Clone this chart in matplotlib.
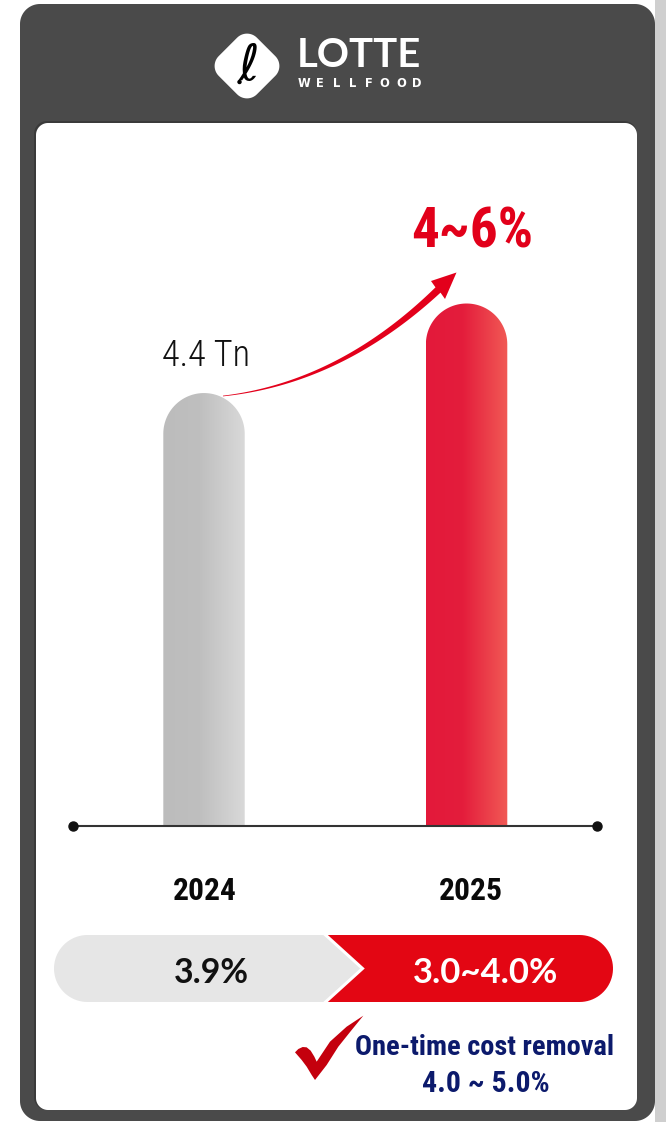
import os
import numpy as np
import matplotlib
matplotlib.use("Agg")
import matplotlib.pyplot as plt
from matplotlib import font_manager as fm
from matplotlib.font_manager import FontProperties
from matplotlib.patches import Polygon, Circle
from matplotlib.colors import LinearSegmentedColormap

# ---------------- data ----------------
categories = ["2024", "2025"]
bar_heights = [4.4, 5.31]            # drawn bar heights (2025 shown taller: 4~6% growth)
bar_value_label = "4.4 Tn"
growth_label = "4~6%"
margin_labels = ["3.9%", "3.0~4.0%"]
note_lines = ["One-time cost removal", "4.0 ~ 5.0%"]
brand_name = "LOTTE"
brand_sub = "WELLFOOD"

W, H = 666, 1122
fig = plt.figure(figsize=(W / 100, H / 100), dpi=100)
fig.patch.set_facecolor("white")
renderer = fig.canvas.get_renderer()


def px_axes(z):
    a = fig.add_axes([0, 0, 1, 1], zorder=z)
    a.set_xlim(0, W)
    a.set_ylim(H, 0)
    a.axis("off")
    a.patch.set_alpha(0)
    return a


# ---------------- fonts ----------------
def weight_of(f):
    w = f.weight
    if isinstance(w, str):
        w = {"ultralight": 200, "light": 300, "normal": 400, "regular": 400,
             "book": 400, "medium": 500, "semibold": 600, "demibold": 600,
             "bold": 700, "heavy": 800, "black": 900}.get(w.lower(), 400)
    return int(w)


COND_KEYS = ["robotocondensed", "notosans-condensed", "liberationsansnarrow",
             "dejavusanscondensed", "opensans-condensed", "notosans-semicondensed"]


def cond_font(target_w):
    best = None
    for f in fm.fontManager.ttflist:
        fn = os.path.basename(f.fname).lower()
        if f.style != "normal" or "italic" in fn or "oblique" in fn:
            continue
        for rank, k in enumerate(COND_KEYS):
            if k in fn:
                score = (rank, abs(weight_of(f) - target_w))
                if best is None or score < best[0]:
                    best = (score, f.fname)
                break
    if best:
        return lambda: FontProperties(fname=best[1])
    return lambda: FontProperties(family="DejaVu Sans", weight=target_w)


COND_BOLD = cond_font(700)
COND_LIGHT = cond_font(300)


def geo_bold():
    return FontProperties(family=["Lato", "DejaVu Sans"], weight="bold")


def put(ax, x, y, s, fpf, size, color, target_w=None, ha="center", cap=1.2, **kw):
    fp = fpf()
    fp.set_size(size)
    t = ax.text(x, y, s, fontproperties=fp, color=color, ha=ha, va="baseline", **kw)
    if target_w:
        bb = t.get_window_extent(renderer)
        t.set_fontsize(min(size * cap, size * target_w / bb.width))
    return t


def rrect(x0, y0, x1, y1, r, n=18):
    pts = []
    for cx, cy, a0, a1 in [(x1 - r, y0 + r, -90, 0), (x1 - r, y1 - r, 0, 90),
                           (x0 + r, y1 - r, 90, 180), (x0 + r, y0 + r, 180, 270)]:
        for a in np.radians(np.linspace(a0, a1, n)):
            pts.append((cx + r * np.cos(a), cy + r * np.sin(a)))
    return np.array(pts)


# ---------------- background / card ----------------
bg = px_axes(0)
bg.add_patch(Polygon([(655, 0), (W, 0), (W, H), (655, H)], closed=True,
                     facecolor="#cfcfcf", edgecolor="none"))
bg.add_patch(Polygon(rrect(20, 4, 655, 1121, 20), closed=True,
                     facecolor="#4a4a4a", edgecolor="none"))
bg.add_patch(Polygon(rrect(34, 121, 637, 1110, 13), closed=True,
                     facecolor="#3a3a3a", edgecolor="none"))
bg.add_patch(Polygon(rrect(36, 123, 637, 1110, 12), closed=True,
                     facecolor="white", edgecolor="none"))

# logo diamond
sq = rrect(-27, -27, 27, 27, 14)
ang = np.radians(45)
rot = np.array([[np.cos(ang), -np.sin(ang)], [np.sin(ang), np.cos(ang)]])
dia = sq @ rot.T + np.array([247, 66])
bg.add_patch(Polygon(dia, closed=True, facecolor="white", edgecolor="none"))
bg.text(249, 66, "ℓ", family="DejaVu Sans", fontsize=36, color="black",
        ha="center", va="center")
bg.add_patch(Circle((239.5, 82), 2.2, facecolor="black", edgecolor="none"))
put(bg, 297, 67, brand_name, lambda: FontProperties(family=["Lato", "DejaVu Sans"], weight="bold"),
    24, "white", target_w=126, ha="left")
xs = np.linspace(304, 417, len(brand_sub))
for ch, xx in zip(brand_sub, xs):
    bg.text(xx, 87, ch, family="DejaVu Sans", weight="bold", fontsize=8.3,
            color="white", ha="center", va="baseline")

# ---------------- bottom pill ----------------
cy, r = 968.5, 33.5
red_shape = [(322, 935)] + [(579.5 + r * np.cos(a), cy + r * np.sin(a))
                            for a in np.radians(np.linspace(-90, 90, 40))] + [(322, 1002)]
bg.add_patch(Polygon(red_shape, closed=True, facecolor="#e30613", edgecolor="none"))
arc = [(87.5 + r * np.cos(a), cy + r * np.sin(a)) for a in np.radians(np.linspace(-90, -270, 40))]
gray_shape = arc + [(325, 1002), (362, cy), (325, 935)]
bg.add_patch(Polygon(gray_shape, closed=True, facecolor="#e6e6e6", edgecolor="none"))
bg.plot([325, 362.5, 325], [934.5, cy, 1002.5], color="white", lw=2.2,
        solid_joinstyle="miter")

# ---------------- bars ----------------
ax = fig.add_axes([37 / W, (H - 826) / H, 600 / W, (826 - 150) / H], zorder=1)
ax.axis("off")
ax.patch.set_alpha(0)
XL, YL = (-0.636, 1.649), (0, 6.87)
ax.set_xlim(*XL)
ax.set_ylim(*YL)
xpos = np.arange(len(categories))
rects = ax.bar(xpos, bar_heights, width=0.31, color="none", edgecolor="none")
ppx = ax.transData.transform((1, 0))[0] - ax.transData.transform((0, 0))[0]
ppy = ax.transData.transform((0, 1))[1] - ax.transData.transform((0, 0))[1]

cmaps = [
    LinearSegmentedColormap.from_list("g", [(0, "#bcbcbc"), (0.45, "#bfbfbf"), (1, "#d9d9d9")]),
    LinearSegmentedColormap.from_list("r", [(0, "#e3193a"), (0.45, "#e41d3c"), (1, "#f15a55")]),
]
grad = np.linspace(0, 1, 256)[None, :]
for rect, cm in zip(rects, cmaps):
    x0, w, h = rect.get_x(), rect.get_width(), rect.get_height()
    rx = w / 2
    ry = rx * ppx / ppy
    th = np.linspace(np.pi, 0, 60)
    verts = [(x0, 0), (x0, h - ry)] + [(x0 + rx + rx * np.cos(t), h - ry + ry * np.sin(t)) for t in th] + [(x0 + w, 0)]
    clip = Polygon(verts, closed=True, facecolor="none", edgecolor="none")
    ax.add_patch(clip)
    im = ax.imshow(grad, cmap=cm, extent=[x0, x0 + w, 0, h], aspect="auto",
                   interpolation="bilinear", zorder=2)
    im.set_clip_path(clip)
ax.set_xlim(*XL)
ax.set_ylim(*YL)

# ---------------- foreground ----------------
fg = px_axes(2)
fg.plot([73, 597], [826, 826], color="#333333", lw=1.5, solid_capstyle="butt")
fg.plot([73, 597], [826, 826], "o", color="#111111", ms=6.5)

# curved tapered arrow
P0, P1, P2 = np.array([223.0, 396.0]), np.array([340.0, 383.0]), np.array([438.0, 290.0])
t = np.linspace(0, 1, 100)[:, None]
B = (1 - t) ** 2 * P0 + 2 * (1 - t) * t * P1 + t ** 2 * P2
D = 2 * (1 - t) * (P1 - P0) + 2 * t * (P2 - P1)
N = np.column_stack([-D[:, 1], D[:, 0]]) / np.linalg.norm(D, axis=1)[:, None]
hw = (0.35 + 3.3 * t[:, 0] ** 1.2)[:, None]
left = B + N * hw
right = B - N * hw
arrow_poly = np.vstack([left, [(445, 299), (456.5, 272.5), (431, 281)], right[::-1]])
fg.add_patch(Polygon(arrow_poly, closed=True, facecolor="#e3001b", edgecolor="none"))

# bar texts
put(fg, 206.5, 366, bar_value_label, COND_LIGHT, 31, "#111111", target_w=88)
put(fg, 472.5, 247, growth_label, COND_BOLD, 40, "#e2001a", target_w=122)
for lab, cx in zip(categories, [205, 470.5]):
    put(fg, cx, 900, lab, COND_BOLD, 23, "#0a0a0a", target_w=64)

# pill texts
put(fg, 211.5, 983, margin_labels[0], geo_bold, 26, "#111111", target_w=75)
put(fg, 486, 983, margin_labels[1], geo_bold, 26, "white", target_w=145)

# check mark
ck = np.array([(45, 157), (55, 147), (68, 141), (80, 142), (92, 152), (103, 170),
               (110, 185), (150, 125), (200, 80), (250, 47), (215, 90), (175, 140),
               (140, 195), (105, 240), (95, 225), (80, 200), (65, 180), (52, 165)],
              dtype=float)
ck[:, 0] = 280 + ck[:, 0] / 3
ck[:, 1] = 1000 + ck[:, 1] / 3
fg.add_patch(Polygon(ck, closed=True, facecolor="#c4000d", edgecolor="none"))

put(fg, 485, 1055, note_lines[0], COND_BOLD, 23, "#0c1a6c", target_w=260)
put(fg, 485.5, 1092, note_lines[1], COND_BOLD, 23, "#0c1a6c", target_w=128)

fig.savefig("out.png", dpi=100, facecolor="white")
